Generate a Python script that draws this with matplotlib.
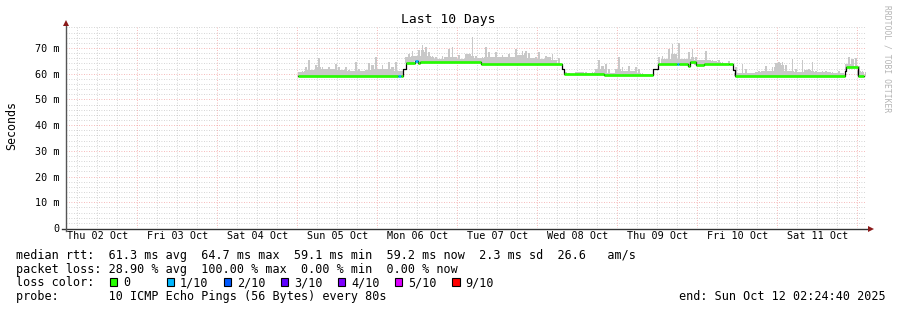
import numpy as np
import matplotlib
matplotlib.use('Agg')
import matplotlib.pyplot as plt
import matplotlib.dates as mdates
from matplotlib.patches import Rectangle
from datetime import datetime, timedelta

plt.rcParams['font.family'] = 'DejaVu Sans Mono'

W, H = 897, 310

# time window
t_start = datetime(2025, 10, 2, 2, 24, 40)
t_end = datetime(2025, 10, 12, 2, 24, 40)
data_base = datetime(2025, 10, 5)  # hour 0 of the series below

# smoke top (ms), one value per hour from Oct 05 00:00
smoke_top = [60.5, 61, 62.5, 65.3, 61.5, 63.2, 66.1, 62.8, 62, 62.5, 62, 63.8, 62.5, 61.5, 62.5, 61.5,
             61, 64.4, 62, 61, 61.5, 64.3, 63.5, 66.6, 62, 63.5, 62, 64.5, 62.5, 64.5, 61, 61, 66.5, 67.7,
             69.0, 67.0, 69.3, 71.3, 70.5, 68.3, 67.0, 66.6, 65.7, 67.0, 66.4, 69.6, 70.5, 66.4, 67.4, 65.7,
             67.7, 67.7, 74.2, 67.0, 66.0, 66.6, 70.5, 68.3, 66.6, 68.3, 66.4, 67.4, 66.6, 67.7, 66.4, 69.6,
             67.4, 69.0,
             69.0, 68.0, 66.0, 66.6, 68.3, 65.7, 67.0, 66.4, 67.7, 65.3, 66.0, 61.8, 60.5, 60.2, 60.0, 60.5,
             60.8, 60.8, 60.8, 60.3, 60.8, 62.0, 65.5, 63.0, 63.8, 61.8, 60.3, 61.8, 66.4, 62.8, 61.2, 63.1,
             61.2, 62.8,
             61.8, 60.3, 60.0, 60.0, 60.0, 61.5, 66.4, 67.0, 65.7, 69.6, 71.7, 67.7, 72.0, 65.7, 65.7, 68.3,
             69.6, 66.4, 65.5, 65.5, 69.0, 65.5, 65.5, 65.0, 65.3, 64.4, 64.2, 65.0, 62.0, 62.5, 60.3, 63.8,
             61.8, 60.3,
             60.3, 60.8, 61.2, 61.2, 63.1, 61.2, 62.5, 64.0, 64.4, 64.4, 63.5, 61.2, 65.7, 61.8, 60.5, 65.3,
             61.5, 61.8, 64.4, 61.2, 60.8, 61.0, 61.2, 60.8, 60.8, 60.3, 61.2, 60.3, 63.8, 66.4, 65.7, 66.0,
             63.1, 61.2, 60.8]

# median rtt segments (hours from Oct 05 00:00), value in ms, loss index (-1 = transition sample)
med_start = [0.2, 30.3, 31.2, 31.6, 32.5, 35.4, 36.3, 36.8, 55.0, 79.3, 79.9, 92.0, 106.8, 108.3,
             114.0, 114.5, 117.2, 117.8, 119.5, 122.0, 129.5, 130.8, 131.2, 164.2, 164.6, 168.2]
med_end_last = 170.1
med_value = [59.1, 59.1, 59.1, 61.8, 64.3, 65.1, 64.0, 64.5, 63.9, 61.8, 59.9, 59.6, 61.8, 63.8,
             63.8, 63.8, 62.9, 64.4, 63.3, 63.8, 63.6, 61.5, 59.3, 61.0, 62.8, 59.3]
med_loss = [0, 1, 0, -1, 0, 1, 0, 0, 0, -1, 0, 0, -1, 0, 1, 0, 0, 0, 0, 0, 0, -1, 0, -1, 0, 0]

loss_colors = ['#26ff00', '#00b8ff', '#0059ff', '#5e00ff', '#7e00ff', '#dd00ff', '#ff0000']
loss_labels = ['0', '1/10', '2/10', '3/10', '4/10', '5/10', '9/10']

day_labels = ['Thu 02 Oct', 'Fri 03 Oct', 'Sat 04 Oct', 'Sun 05 Oct', 'Mon 06 Oct',
              'Tue 07 Oct', 'Wed 08 Oct', 'Thu 09 Oct', 'Fri 10 Oct', 'Sat 11 Oct']
ytick_vals = [0, 10, 20, 30, 40, 50, 60, 70]
ytick_labels = ['0', '10 m', '20 m', '30 m', '40 m', '50 m', '60 m', '70 m']

legend_lines = [
    'median rtt:  61.3 ms avg  64.7 ms max  59.1 ms min  59.2 ms now  2.3 ms sd  26.6   am/s',
    'packet loss: 28.90 % avg  100.00 % max  0.00 % min  0.00 % now',
    'loss color:',
    'probe:       10 ICMP Echo Pings (56 Bytes) every 80s',
]


def px(x, y):
    return x / W, 1 - y / H


base_num = mdates.date2num(data_base)


def h2x(h):
    return base_num + np.asarray(h) / 24.0


fig = plt.figure(figsize=(W / 100, H / 100), dpi=100)
ax_left, ax_right, ax_top, ax_bot = 65.5, 865.5, 26, 228
ax = fig.add_axes([ax_left / W, 1 - ax_bot / H, (ax_right - ax_left) / W, (ax_bot - ax_top) / H])
ymax = (ax_bot - ax_top) / 2.5714
ax.set_xlim(mdates.date2num(t_start), mdates.date2num(t_end))
ax.set_ylim(0, ymax)

# grid
red_grid = (0.92, 0.4, 0.4, 0.6)
grey_grid = (0.6, 0.6, 0.6, 0.55)
for v in np.arange(2, ymax, 2):
    if v % 10 == 0:
        ax.axhline(v, color=red_grid, lw=0.6, ls=(0, (1, 2)), zorder=1)
    else:
        ax.axhline(v, color=grey_grid, lw=0.6, ls=(0, (1, 2)), zorder=0.5)
d = datetime(2025, 10, 2)
while d <= t_end:
    if d >= t_start:
        if d.hour == 0:
            ax.axvline(mdates.date2num(d), color=red_grid, lw=0.6, ls=(0, (1, 2)), zorder=1)
        else:
            ax.axvline(mdates.date2num(d), color=grey_grid, lw=0.6, ls=(0, (1, 2)), zorder=0.5)
    d += timedelta(hours=6)

# median step function lookup
med_edges = med_start + [med_end_last]


def median_at(h):
    for i in range(len(med_start)):
        if med_edges[i] <= h < med_edges[i + 1]:
            return med_value[i]
    return med_value[-1]


hours = np.arange(len(smoke_top))
smoke_bot = np.array([median_at(h + 0.5) for h in hours])
top = np.maximum(np.array(smoke_top), smoke_bot)

# continuous band: lowest of neighbouring tops
band = np.array([top[max(i - 1, 0):i + 2].min() for i in range(len(top))])
band = np.maximum(band, smoke_bot)
edges = np.append(hours, hours[-1] + 1).astype(float)
edges[0] = med_start[0]
edges[-1] = med_end_last
ax.fill_between(h2x(edges), np.append(smoke_bot, smoke_bot[-1]), np.append(band, band[-1]),
                step='post', color='#c8c8c8', lw=0, zorder=2)
# spikes: narrower bars per hour
ax.bar(h2x(hours + 0.5), top - smoke_bot, bottom=smoke_bot, width=0.55 / 24,
       color='#c8c8c8', lw=0, zorder=2)

# median line: thin black steps, coloured segments on top
sx = h2x(med_edges)
sy = med_value + [med_value[-1]]
ax.plot(sx, sy, drawstyle='steps-post', color='black', lw=0.9, zorder=3)
for i in range(len(med_start)):
    if med_loss[i] < 0:
        continue
    ax.plot(h2x([med_edges[i], med_edges[i + 1]]), [med_value[i]] * 2,
            color=loss_colors[med_loss[i]], lw=1.9, solid_capstyle='butt', zorder=4)

# ticks
ax.set_yticks(ytick_vals)
ax.set_yticklabels(ytick_labels)
noon = [mdates.date2num(datetime(2025, 10, 2 + i, 12)) for i in range(len(day_labels))]
ax.set_xticks(noon)
ax.set_xticklabels(day_labels)
ax.tick_params(axis='both', length=0, labelsize=7.3, colors='black')
ax.tick_params(axis='y', pad=4.5)
ax.tick_params(axis='x', pad=2.5)
for s in ax.spines.values():
    s.set_visible(False)

# axis lines with arrows
fig.add_artist(plt.Line2D([px(62, 0)[0], px(869, 0)[0]], [px(0, 228.5)[1]] * 2, color='#333333', lw=1.0))
fig.add_artist(plt.Line2D([px(66, 0)[0]] * 2, [px(0, 231)[1], px(0, 24)[1]], color='#555555', lw=1.0))
fig.add_artist(plt.Line2D([px(66, 0)[0]], [px(0, 22.5)[1]], marker='^', ms=4, color='#8b1a1a', mew=0))
fig.add_artist(plt.Line2D([px(870.5, 0)[0]], [px(0, 228.5)[1]], marker='>', ms=4, color='#8b1a1a', mew=0))

# title and labels
fig.text(*px(448, 23.5), 'Last 10 Days', ha='center', va='baseline', fontsize=9.4)
fig.text(*px(11.5, 126), 'Seconds', ha='center', va='center', rotation=90, fontsize=8.4)
fig.text(*px(887, 5), 'RRDTOOL / TOBI OETIKER', ha='center', va='top', rotation=270,
         fontsize=5.8, color='#b4b4b4')

# legend
cw = 7.13
baselines = [258.7, 272.5, 286.3, 300.0]
for line, yb in zip(legend_lines, baselines):
    fig.text(*px(16, yb), line, ha='left', va='baseline', fontsize=8.5)
for i, (c, lab) in enumerate(zip(loss_colors, loss_labels)):
    bx = 16 + (13 + 8 * i) * cw + 1
    fig.patches.append(Rectangle(px(bx, 286.0), 7.6 / W, 7.6 / H, transform=fig.transFigure,
                                 fc=c, ec='black', lw=0.8))
    fig.text(*px(16 + (15 + 8 * i) * cw, 286.3), lab, ha='left', va='baseline', fontsize=8.5)
fig.text(*px(679, 300.0), 'end: Sun Oct 12 02:24:40 2025', ha='left', va='baseline', fontsize=8.5)

fig.savefig('out.png', dpi=100)
